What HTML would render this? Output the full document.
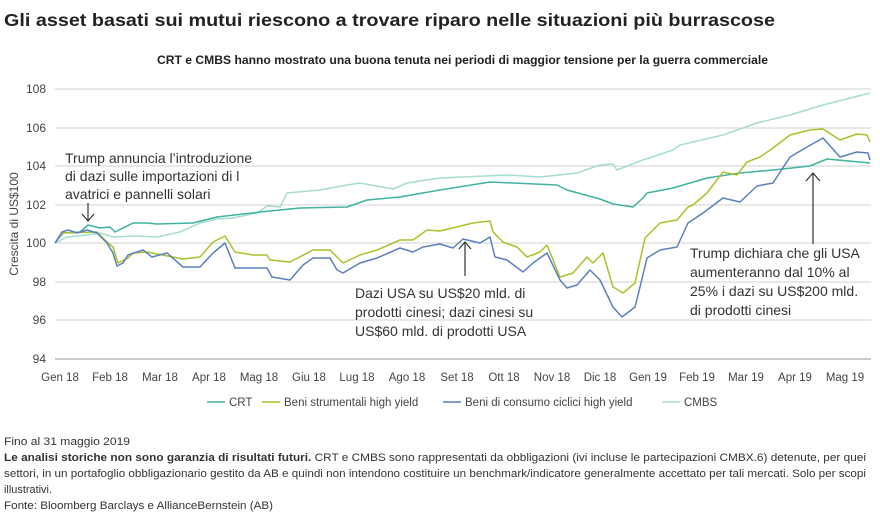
<!DOCTYPE html>
<html><head><meta charset="utf-8"><style>
body{margin:0;width:880px;height:513px;background:#fff;font-family:"Liberation Sans",sans-serif;color:#222;overflow:hidden}
</style></head><body>
<svg width="880" height="513" xmlns="http://www.w3.org/2000/svg" font-family="Liberation Sans, sans-serif">
<text x="4" y="26" font-size="17.5" font-weight="bold" fill="#222" textLength="771" lengthAdjust="spacingAndGlyphs">Gli asset basati sui mutui riescono a trovare riparo nelle situazioni più burrascose</text>
<text x="157" y="64" font-size="11.5" font-weight="bold" fill="#222" textLength="611" lengthAdjust="spacingAndGlyphs">CRT e CMBS hanno mostrato una buona tenuta nei periodi di maggior tensione per la guerra commerciale</text>
<g stroke="#d0d0d0" stroke-width="1">
<line x1="55" x2="871" y1="89" y2="89"/><line x1="55" x2="871" y1="128" y2="128"/><line x1="55" x2="871" y1="166" y2="166"/><line x1="55" x2="871" y1="205" y2="205"/><line x1="55" x2="871" y1="243" y2="243"/><line x1="55" x2="871" y1="282" y2="282"/><line x1="55" x2="871" y1="320" y2="320"/>
</g>
<line x1="55" x2="871" y1="359" y2="359" stroke="#aaa" stroke-width="1.2"/>
<g font-size="12" fill="#444" text-anchor="end">
<text x="46" y="93">108</text><text x="46" y="132">106</text><text x="46" y="170">104</text><text x="46" y="209">102</text><text x="46" y="247">100</text><text x="46" y="286">98</text><text x="46" y="324">96</text><text x="46" y="363">94</text>
</g>
<text transform="translate(18,224) rotate(-90)" font-size="12" fill="#444" text-anchor="middle">Crescita di US$100</text>
<g font-size="11.5" fill="#444" text-anchor="middle">
<text x="60" y="381">Gen 18</text><text x="110" y="381">Feb 18</text><text x="160" y="381">Mar 18</text><text x="209" y="381">Apr 18</text><text x="259" y="381">Mag 18</text><text x="309" y="381">Giu 18</text><text x="357" y="381">Lug 18</text><text x="407" y="381">Ago 18</text><text x="457" y="381">Set 18</text><text x="504" y="381">Ott 18</text><text x="552" y="381">Nov 18</text><text x="600" y="381">Dic 18</text><text x="648" y="381">Gen 19</text><text x="697" y="381">Feb 19</text><text x="746" y="381">Mar 19</text><text x="795" y="381">Apr 19</text><text x="845" y="381">Mag 19</text>
</g>
<g fill="none" stroke-width="1.5" stroke-linejoin="round">
<polyline stroke="#a6dcd2" points="55,243 67,237 87,235 100,233 113,237 133,236 157,237 180,232 200,223 217,219 233,218 257,213 267,206 280,207 287,193 320,190 347,185 360,183 393,189 407,183 440,178 507,175 540,177 577,173 600,165 613,164 617,170 640,161 673,150 680,145 723,135 757,123 790,115 823,105 870,93"/>
<polyline stroke="#3fb39e" points="55,243 63,233 80,232 88,225 100,228 110,227 115,232 133,223 147,223 157,224 193,223 217,217 260,212 300,208 347,207 367,200 400,197 440,190 490,182 557,185 567,190 600,199 613,204 633,207 643,198 647,193 673,188 707,178 740,173 773,170 810,166 827,159 870,163"/>
<polyline stroke="#a9c12a" points="55,243 62,233 97,232 107,242 113,247 118,263 128,258 133,253 147,252 183,259 200,257 213,242 225,236 235,252 253,255 267,255 270,260 290,262 313,250 330,250 343,263 360,255 377,250 400,240 413,240 427,230 440,231 473,223 490,221 493,232 503,242 517,247 527,257 540,252 547,245 560,277 573,273 587,257 593,263 603,253 613,287 623,293 635,283 645,238 660,223 677,220 688,207 693,205 707,193 723,172 737,175 747,162 760,157 773,148 790,135 810,130 823,129 840,140 857,134 867,135 870,142"/>
<polyline stroke="#5b7fbf" points="55,243 62,232 68,230 77,233 87,230 97,233 107,243 113,253 117,266 123,263 128,255 143,250 152,257 167,253 183,267 200,267 213,253 225,243 235,268 253,268 267,268 272,277 290,280 303,265 313,258 330,258 337,270 343,273 360,263 377,258 400,248 413,252 423,247 440,244 453,248 463,239 480,243 490,237 495,257 507,260 523,272 533,263 547,253 560,280 567,288 577,285 590,270 600,280 613,307 622,317 635,307 640,287 647,258 660,250 677,247 688,223 703,213 723,198 740,202 757,186 773,183 790,157 807,147 823,138 840,157 857,152 868,153 870,160"/>
</g>
<g stroke="#333" stroke-width="1.2" fill="none">
<line x1="88" y1="203" x2="88" y2="221"/><polyline points="82,214 88,221 94,214"/>
<line x1="465" y1="276" x2="465" y2="242"/><polyline points="459,249 465,242 471,249"/>
<line x1="813" y1="244" x2="813" y2="173"/><polyline points="806,181 813,173 820,181"/>
</g>
<g font-size="14" fill="#333">
<text x="65" y="163">Trump annuncia l’introduzione</text>
<text x="65" y="181">di dazi sulle importazioni di l</text>
<text x="65" y="199">avatrici e pannelli solari</text>
<text x="355" y="298">Dazi USA su US$20 mld. di</text>
<text x="355" y="317">prodotti cinesi; dazi cinesi su</text>
<text x="355" y="336">US$60 mld. di prodotti USA</text>
<text x="690" y="258">Trump dichiara che gli USA</text>
<text x="690" y="277">aumenteranno dal 10% al</text>
<text x="690" y="296">25% i dazi su US$200 mld.</text>
<text x="690" y="315">di prodotti cinesi</text>
</g>
<g font-size="11.5" fill="#444">
<line x1="207" x2="225" y1="402" y2="402" stroke="#3fb39e" stroke-width="1.5"/><text x="229" y="406">CRT</text>
<line x1="262" x2="280" y1="402" y2="402" stroke="#a9c12a" stroke-width="1.5"/><text x="284" y="406">Beni strumentali high yield</text>
<line x1="443" x2="461" y1="402" y2="402" stroke="#5b7fbf" stroke-width="1.5"/><text x="465" y="406">Beni di consumo ciclici high yield</text>
<line x1="662" x2="680" y1="402" y2="402" stroke="#a6dcd2" stroke-width="1.5"/><text x="684" y="406">CMBS</text>
</g>
<g font-size="11" fill="#333">
<text x="4" y="445" textLength="126" lengthAdjust="spacingAndGlyphs">Fino al 31 maggio 2019</text>
<text x="4" y="461" textLength="862" lengthAdjust="spacingAndGlyphs"><tspan font-weight="bold">Le analisi storiche non sono garanzia di risultati futuri.</tspan> CRT e CMBS sono rappresentati da obbligazioni (ivi incluse le partecipazioni CMBX.6) detenute, per quei</text>
<text x="4" y="477" textLength="862" lengthAdjust="spacingAndGlyphs">settori, in un portafoglio obbligazionario gestito da AB e quindi non intendono costituire un benchmark/indicatore generalmente accettato per tali mercati. Solo per scopi</text>
<text x="4" y="493" textLength="48" lengthAdjust="spacingAndGlyphs">illustrativi.</text>
<text x="4" y="509" textLength="269" lengthAdjust="spacingAndGlyphs">Fonte: Bloomberg Barclays e AllianceBernstein (AB)</text>
</g>
</svg>
</body></html>
